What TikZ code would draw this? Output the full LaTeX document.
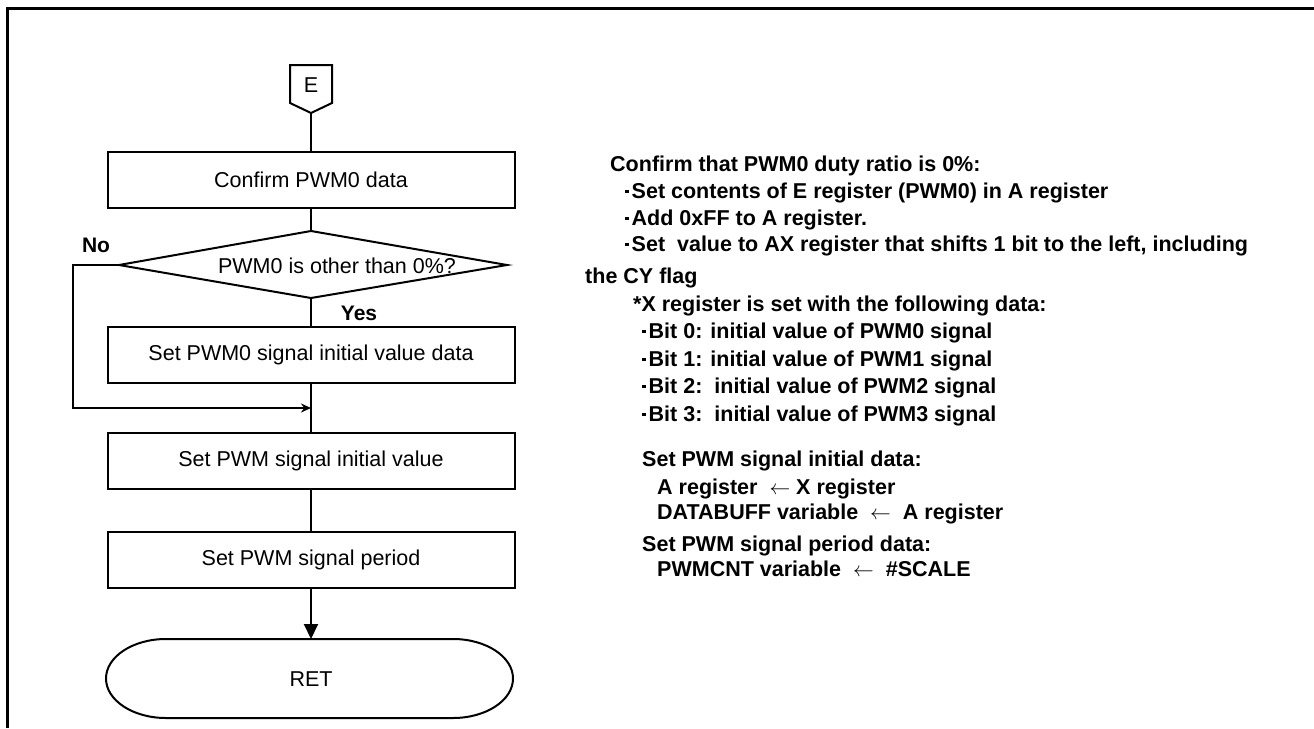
\documentclass[tikz,border=0pt]{standalone}
\usepackage{fontspec}
\setmainfont{Liberation Sans}
\usetikzlibrary{arrows.meta}
\newcommand{\blt}{\raisebox{5pt}{\rule{3.5pt}{3.5pt}}\hspace{3pt}}
\newcommand{\larr}{$\leftarrow$}
\begin{document}
\begin{tikzpicture}[x=1pt,y=-1pt,
  box/.style={draw, line width=2pt, minimum width=407pt, minimum height=56pt, inner sep=0pt, font=\fontsize{21.5}{24}\selectfont},
  flow/.style={line width=2pt},
  lbl/.style={font=\bfseries\fontsize{21}{24}\selectfont, inner sep=0pt},
  rt/.style={anchor=base west, inner sep=0pt, font=\bfseries\fontsize{21.5}{26}\selectfont},
  ftxt/.style={inner sep=0pt, font=\fontsize{21.5}{24}\selectfont},
]
\useasboundingbox (0,0) rectangle (1314,728);
% frame
\draw[line width=3pt] (7,728) -- (7,8) -- (1314,8);

% connector E
\node[ftxt] (E) at (311,85) {E};
\draw[flow] (290,65) -- (332,65) -- (332,103) -- (311,113) -- (290,103) -- cycle;
\coordinate (Ebot) at (311,113);

% boxes
\node[box] (b1) at (311,180) {Confirm PWM0 data};
\node[box] (b2) at (311,354.5) {Set PWM0 signal initial value data};
\node[box] (b3) at (311,460.5) {Set PWM signal initial value};
\node[box] (b4) at (311,559.5) {Set PWM signal period};

% diamond
\coordinate (dt) at (311,231);
\coordinate (dl) at (119,265);
\coordinate (dr) at (507,265);
\coordinate (db) at (311,298);
\draw[flow] (dt) -- (dr) -- (db) -- (dl) -- cycle;
\node[ftxt] (dtext) at (337,266) {PWM0 is other than 0\%?};

% RET terminator
\node[ftxt] (ret) at (311,679) {RET};
\draw[flow] (166,639) -- (453,639)
  arc[start angle=90, end angle=-90, x radius=60pt, y radius=39.5pt]
  -- (166,718)
  arc[start angle=270, end angle=90, x radius=60pt, y radius=39.5pt] -- cycle;
\coordinate (rettop) at (311,639);

% labels
\node[lbl] (no) at (96,245) {No};
\node[lbl] (yes) at (359,313) {Yes};

% connectors
\draw[flow] (Ebot) -- (b1.north);
\draw[flow] (b1.south) -- (dt);
\draw[flow] (db) -- (b2.north);
\draw[flow] (b2.south) -- (b3.north);
\coordinate (jn) at (311,408);
\coordinate (nl1) at (73,265);
\coordinate (nl2) at (73,408);
\draw[flow,-{Stealth[length=10pt,width=9pt]}] (dl) -- (nl1) -- (nl2) -- (jn);
\draw[flow] (b3.south) -- (b4.north);
\draw[flow,-{Triangle[length=15pt,width=14pt]}] (b4.south) -- (rettop);

% right-hand notes
\node[rt] (t1) at (610,171) {Confirm that PWM0 duty ratio is 0\%:};
\node[rt] (t2) at (625,198) {\blt Set contents of E register (PWM0) in A register};
\node[rt] (t3) at (625,225) {\blt Add 0xFF to A register.};
\node[rt] (t4) at (625,251) {\blt Set\ \ value to AX register that shifts 1 bit to the left, including};
\node[rt] (t5) at (585,283) {the CY flag};
\node[rt] (t6) at (633,311) {*X register is set with the following data:};
\node[rt] (t7) at (642,338) {\blt Bit 0: initial value of PWM0 signal};
\node[rt] (t8) at (642,366) {\blt Bit 1: initial value of PWM1 signal};
\node[rt] (t9) at (642,393) {\blt Bit 2:\ \ initial value of PWM2 signal};
\node[rt] (t10) at (642,421) {\blt Bit 3:\ \ initial value of PWM3 signal};
\node[rt] (t11) at (642,466) {Set PWM signal initial data:};
\node[rt] (t12) at (657,494) {A register\ \ \larr\ X register};
\node[rt] (t13) at (657,519) {DATABUFF variable\ \ \larr\ \ A register};
\node[rt] (t14) at (642,551) {Set PWM signal period data:};
\node[rt] (t15) at (657,576) {PWMCNT variable\ \ \larr\ \ \#SCALE};
\end{tikzpicture}
\end{document}
